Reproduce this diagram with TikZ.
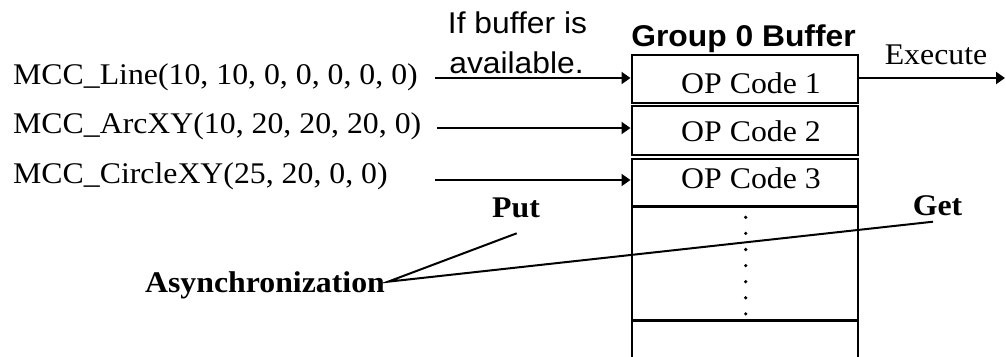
\documentclass[tikz,border=0pt]{standalone}
\usepackage{fontspec}
\setmainfont[FakeStretch=1.06]{Liberation Serif}
\newfontfamily\arialfont[FakeStretch=1.06]{Liberation Sans}
\usetikzlibrary{arrows.meta}
\begin{document}
\begin{tikzpicture}[x=1pt,y=-1pt,
  txt/.style={font=\fontsize{30}{36}\selectfont, inner sep=0pt, anchor=base},
  sanstxt/.style={txt, font=\fontsize{30}{40}\selectfont\arialfont},
  boldtxt/.style={txt, font=\fontsize{30}{36}\selectfont\bfseries},
  cell/.style={draw, line width=2pt, minimum width=226pt, inner sep=0pt},
  conn/.style={line width=2pt},
  arr/.style={conn, -{Triangle[length=9pt,width=12pt]}}]
\useasboundingbox (0,0) rectangle (1006,356);
\clip (0,0) rectangle (1006,356);

% buffer cells
\node[cell, minimum height=48pt]   (b1) at (744.5,78.5)  {};
\node[cell, minimum height=49pt]   (b2) at (744.5,130.5) {};
\node[cell, minimum height=47.5pt] (b3) at (744.5,182.25) {};
\node[cell, minimum height=113pt]  (b4) at (744.5,263)   {};
\node[cell, minimum height=49pt]   (b5) at (744.5,345)   {};

\node[txt] (op1) at (751,93)    {OP Code 1};
\node[txt] (op2) at (751,141.5) {OP Code 2};
\node[txt] (op3) at (751,188.5) {OP Code 3};

\node[txt, font=\fontsize{30}{36}\selectfont\arialfont\bfseries] (title) at (743.5,46.7) {Group 0 Buffer};

% dots
\foreach \k in {0,...,6} \fill (745.7,217.3+16.1*\k) circle (1.8);

% commands
\node[txt, anchor=base west] (cmd1) at (13,84)  {MCC\_Line(10, 10, 0, 0, 0, 0, 0)};
\node[txt, anchor=base west] (cmd2) at (13,133) {MCC\_ArcXY(10, 20, 20, 20, 0)};
\node[txt, anchor=base west] (cmd3) at (13,183) {MCC\_CircleXY(25, 20, 0, 0)};

\node[sanstxt] (cond1) at (517.5,33.3) {If buffer is};
\node[sanstxt] (cond2) at (516.5,73.3) {available.};

\coordinate (in1) at (435,78);
\coordinate (in2) at (437,128);
\coordinate (in3) at (435,180);
\draw[arr] (in1) -- (in1 -| b1.west);
\draw[arr] (in2) -- (in2 -| b2.west);
\draw[arr] (in3) -- (in3 -| b3.west);

% execute
\node[txt] (exec) at (936,64) {Execute};
\coordinate (out) at (1005,78);
\draw[arr] (b1.east |- out) -- (out);

% asynchronization
\node[boldtxt] (put) at (516,217) {Put};
\node[boldtxt] (get) at (937.5,215) {Get};
\node[boldtxt] (async) at (265,292) {Asynchronization};
\coordinate (apex) at (388,281.7);
\coordinate (putend) at (516.7,233.3);
\coordinate (getend) at (933,221.7);
\draw[conn] (putend) -- (apex) -- (getend);
\end{tikzpicture}
\end{document}
